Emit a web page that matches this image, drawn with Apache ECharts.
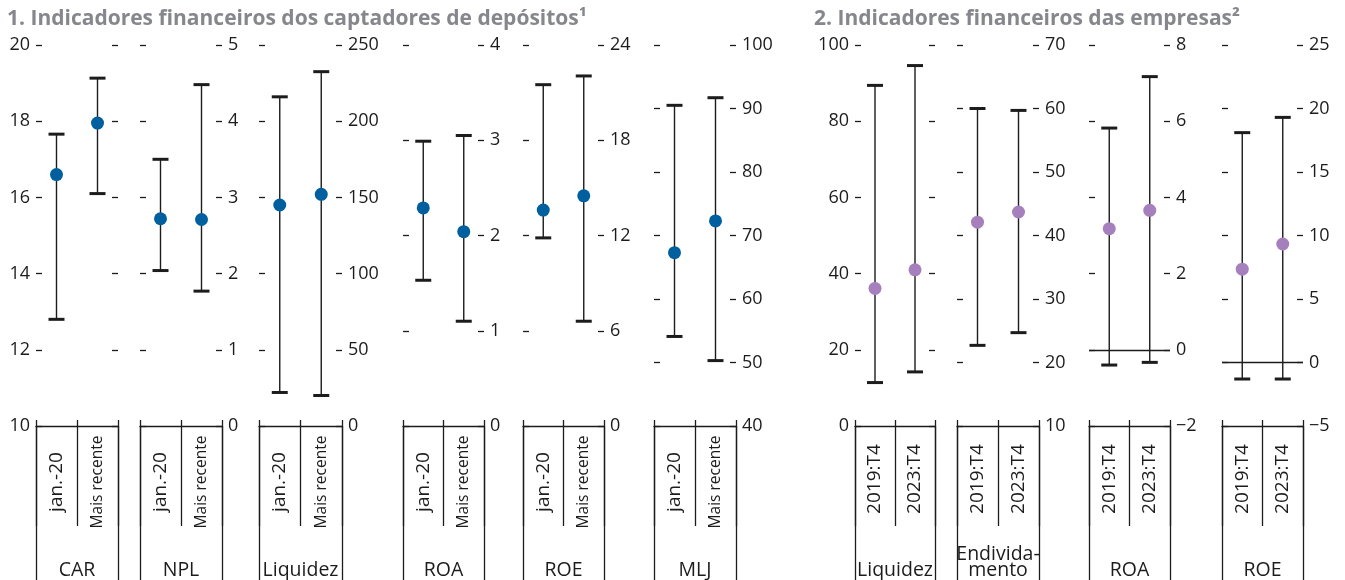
<!DOCTYPE html>
<html>
<head>
<meta charset="utf-8">
<title>Indicadores financeiros</title>
<script src="https://cdn.jsdelivr.net/npm/echarts@6/dist/echarts.min.js"></script>
<style>
  html, body { margin: 0; padding: 0; background: #fff; }
  #chart { width: 1345px; height: 580px; }
</style>
</head>
<body>
<div id="chart"></div>
<script>
// 1. depositors (captadores de depósitos)
const depNames = ['CAR', 'NPL', 'Liquidez', 'ROA', 'ROE', 'MLJ'];
const depPeriods = ['jan.-20', 'Mais recente'];
const depLow = [[12.8, 16.1], [2.04, 1.77], [22, 20], [1.53, 1.1], [11.85, 6.6], [54.1, 50.3]];
const depMid = [[16.6, 17.95], [2.72, 2.71], [145, 152], [2.29, 2.04], [13.6, 14.5], [67.3, 72.3]];
const depHigh = [[17.66, 19.13], [3.5, 4.48], [216, 232.5], [2.99, 3.05], [21.5, 22.05], [90.5, 91.7]];
const depAxisMin = [10, 0, 0, 0, 0, 40];
const depAxisMax = [20, 5, 250, 4, 24, 100];
const depAxisStep = [2, 1, 50, 1, 6, 10];

// 2. firms (empresas)
const firmNames = ['Liquidez', 'Endivida-\nmento', 'ROA', 'ROE'];
const firmPeriods = ['2019:T4', '2023:T4'];
const firmLow = [[11.4, 14.2], [22.7, 24.7], [-0.4, -0.33], [-1.3, -1.3]];
const firmMid = [[36.1, 41.0], [42.1, 43.7], [3.18, 3.66], [7.35, 9.33]];
const firmHigh = [[89.4, 94.6], [60.0, 59.7], [5.82, 7.17], [18.1, 19.3]];
const firmAxisMin = [0, 10, -2, -5];
const firmAxisMax = [100, 70, 8, 25];
const firmAxisStep = [20, 10, 2, 5];

// layout: pixel edges of each small grid
const depBoxes = [[36, 118], [140, 222], [259, 342], [403, 484], [523, 604], [654, 736]];
const firmBoxes = [[855, 935], [957, 1039], [1089, 1170], [1222, 1303]];

const FONT = '"Open Sans", sans-serif';
const INK = '#1c1c1c';
const BLUE = '#005f9e';
const PURPLE = '#a67fbd';
const GRID_TOP = 45;
const GRID_HEIGHT = 382;

const grids = [];
const xAxes = [];
const yAxes = [];
const series = [];

function renderRange(params, api) {
    const low = api.coord([api.value(0), api.value(1)]);
    const high = api.coord([api.value(0), api.value(2)]);
    const cap = 8;
    const capStyle = { stroke: INK, lineWidth: 3 };
    return {
        type: 'group',
        children: [
            { type: 'line', shape: { x1: low[0], y1: low[1], x2: high[0], y2: high[1] }, style: { stroke: INK, lineWidth: 1.4 } },
            { type: 'line', shape: { x1: low[0] - cap, y1: low[1], x2: low[0] + cap, y2: low[1] }, style: capStyle },
            { type: 'line', shape: { x1: high[0] - cap, y1: high[1], x2: high[0] + cap, y2: high[1] }, style: capStyle }
        ]
    };
}

const minus = (v) => String(v).replace('-', '\u2212');

function addPanel(p) {
    const g = grids.length;
    const lineStyle = { color: INK, width: 1.3 };
    grids.push({ left: p.box[0], width: p.box[1] - p.box[0], top: GRID_TOP, height: GRID_HEIGHT });

    const xi = xAxes.length;
    // period axis: baseline, separators and rotated labels
    xAxes.push({
        gridIndex: g, type: 'category', data: p.periods, position: 'bottom',
        axisLine: { show: true, onZero: false, lineStyle },
        axisTick: { show: true, interval: 0, length: 100, lineStyle },
        axisLabel: {
            show: true, interval: 0, rotate: 90, align: 'center', verticalAlign: 'middle',
            margin: p.periodMargin, color: INK, fontFamily: FONT,
            formatter: (v, i) => '{' + p.periodStyles[i] + '|' + v + '}',
            rich: {
                big: { fontSize: 19, fontFamily: FONT, color: INK },
                small: { fontSize: 15.5, fontFamily: FONT, color: INK }
            }
        }
    });
    // short upward stubs at the separators
    xAxes.push({
        gridIndex: g, type: 'category', data: p.periods, position: 'bottom',
        axisLine: { show: false, onZero: false },
        axisTick: { show: true, interval: 0, inside: true, length: 6, lineStyle },
        axisLabel: { show: false }
    });
    // indicator name axis
    xAxes.push({
        gridIndex: g, type: 'category', data: [p.name], position: 'bottom',
        axisLine: { show: false, onZero: false },
        axisTick: { show: true, interval: 0, length: 160, lineStyle },
        axisLabel: {
            show: true, interval: 0, margin: 152, verticalAlign: 'bottom', lineHeight: 16,
            fontSize: 19.5, fontFamily: FONT, color: INK
        }
    });

    const yi = yAxes.length;
    const yBase = {
        gridIndex: g, type: 'value', min: p.min, max: p.max, interval: p.step,
        splitLine: { show: false },
        axisLine: { show: false },
        axisTick: { show: true, inside: true, length: 6, lineStyle }
    };
    yAxes.push(Object.assign({}, yBase, {
        position: p.side,
        axisLabel: { margin: 6, fontSize: 18, fontFamily: FONT, color: INK, formatter: minus }
    }));
    yAxes.push(Object.assign({}, yBase, {
        position: p.side === 'left' ? 'right' : 'left',
        axisLabel: { show: false }
    }));

    series.push({
        type: 'custom', xAxisIndex: xi, yAxisIndex: yi, z: 2,
        renderItem: renderRange,
        encode: { x: 0, y: [1, 2] },
        data: p.low.map((v, i) => [i, v, p.high[i]])
    });
    const dots = {
        type: 'scatter', xAxisIndex: xi, yAxisIndex: yi, z: 3,
        symbolSize: 13,
        itemStyle: { color: p.color, opacity: 1 },
        data: p.mid.map((v, i) => [i, v])
    };
    if (p.zeroLine) {
        dots.markLine = {
            silent: true, symbol: 'none', label: { show: false },
            lineStyle: { color: INK, width: 1.3, type: 'solid' },
            data: [{ yAxis: 0 }]
        };
    }
    series.push(dots);
}

depNames.forEach((name, i) => addPanel({
    name, periods: depPeriods, periodStyles: ['big', 'small'], periodMargin: 56,
    box: depBoxes[i], side: i === 0 ? 'left' : 'right',
    min: depAxisMin[i], max: depAxisMax[i], step: depAxisStep[i],
    low: depLow[i], mid: depMid[i], high: depHigh[i], color: BLUE
}));

firmNames.forEach((name, i) => addPanel({
    name, periods: firmPeriods, periodStyles: ['big', 'big'], periodMargin: 53,
    box: firmBoxes[i], side: i === 0 ? 'left' : 'right',
    min: firmAxisMin[i], max: firmAxisMax[i], step: firmAxisStep[i],
    low: firmLow[i], mid: firmMid[i], high: firmHigh[i], color: PURPLE,
    zeroLine: firmAxisMin[i] < 0
}));

const titleStyle = { fontFamily: FONT, fontSize: 21, fontWeight: 'bold', color: '#86878d' };

const chart = echarts.init(document.getElementById('chart'), null, { renderer: 'canvas' });
chart.setOption({
    backgroundColor: '#fff',
    animation: false,
    title: [
        { text: '1. Indicadores financeiros dos captadores de depósitos\u00b9', left: 7, top: 9, padding: 0, textStyle: titleStyle },
        { text: '2. Indicadores financeiros das empresas\u00b2', left: 814, top: 9, padding: 0, textStyle: titleStyle }
    ],
    grid: grids,
    xAxis: xAxes,
    yAxis: yAxes,
    series
});
</script>
</body>
</html>
